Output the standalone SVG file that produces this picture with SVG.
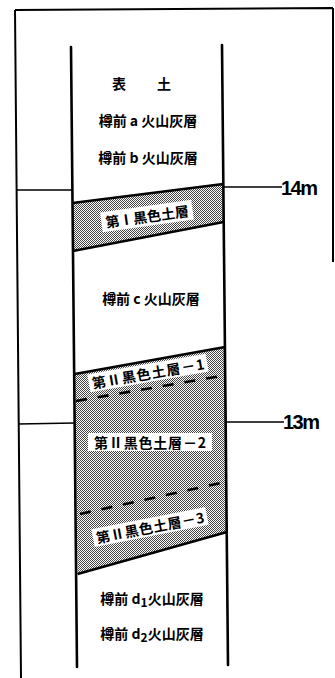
<svg xmlns="http://www.w3.org/2000/svg" width="335" height="678" viewBox="0 0 335 678">
<defs>
<pattern id="dots" width="2" height="2" patternUnits="userSpaceOnUse">
<rect width="2" height="2" fill="#ffffff"/>
<rect x="0" y="0" width="1" height="1" fill="#444"/>
<rect x="1" y="1" width="1" height="1" fill="#444"/>
</pattern>
</defs>
<style>
.frame{fill:none;stroke:#000;stroke-width:2}
.col{fill:none;stroke:#000;stroke-width:2.6;stroke-linecap:round}
.bd{fill:none;stroke:#000;stroke-width:2.6}
.dash{fill:none;stroke:#000;stroke-width:2.6;stroke-dasharray:11 11}
.tick{fill:none;stroke:#000;stroke-width:1.6}
.t{font-family:"Noto Sans CJK JP","Noto Sans CJK SC",sans-serif;font-weight:bold;font-size:14px;fill:#000;dominant-baseline:central;text-anchor:middle}
.m{font-family:"Liberation Sans",Arial,sans-serif;font-weight:bold;font-size:20px;fill:#000;letter-spacing:-1.5px;dominant-baseline:central}
.box{fill:#fff}
</style>
<g id="frame">
<path class="frame" d="M15,10 L333,8 M15,10 L21,678 M333,8 L333,262"/>
</g>
<g id="layer-I-black-soil">
<polygon points="72.5,203 223.3,184 223.6,222 72.9,251" fill="url(#dots)"/>
<path class="bd" d="M72.5,203 L223.3,184 M72.9,251 L223.6,222"/>
<g transform="translate(147,216) rotate(-8)">
<rect class="box" x="-46" y="-10" width="92" height="20"/>
<text class="t" x="0" y="0">第Ⅰ黒色土層</text>
</g>
</g>
<g id="layer-II-black-soil">
<polygon points="74.8,374 225.1,347 226.9,532 77.6,574" fill="url(#dots)"/>
<path class="bd" d="M74.8,374 L225.1,347 M77.6,574 L226.9,532"/>
</g>
<g id="label-II-1" transform="translate(148,373) rotate(-10)">
<rect class="box" x="-60" y="-9" width="120" height="18"/>
<text class="t" x="0" y="0" textLength="114">第Ⅱ黒色土層－1</text>
</g>
<g id="label-II-2" transform="translate(150,442)">
<rect class="box" x="-62" y="-9" width="124" height="18"/>
<text class="t" x="0" y="0" textLength="112">第Ⅱ黒色土層－2</text>
</g>
<g id="label-II-3" transform="translate(150,527) rotate(-11)">
<rect class="box" x="-58" y="-9" width="116" height="18"/>
<text class="t" x="0" y="0" textLength="110">第Ⅱ黒色土層－3</text>
</g>
<g id="column">
<path class="col" d="M71,47 L77,667 M222,45 L228,665"/>
</g>
<g id="connectors">
<path class="dash" d="M76,401 L221,376"/>
<path class="dash" d="M80,514 L225,482"/>
<path class="tick" d="M16,190 L72,190 M223,187 L282,187"/>
<path class="tick" d="M18,424 L75,423 M226,422 L284,422"/>
</g>
<g id="scale-14m"><text class="m" x="281" y="188">14m</text></g>
<g id="scale-13m"><text class="m" x="283" y="422">13m</text></g>
<g id="topsoil">
<text class="t" x="119" y="83">表</text>
<text class="t" x="164" y="83">土</text>
</g>
<g id="ta-a"><text class="t" x="148" y="120">樽前 a 火山灰層</text></g>
<g id="ta-b"><text class="t" x="148" y="157">樽前 b 火山灰層</text></g>
<g id="ta-c"><text class="t" x="151" y="298">樽前 c 火山灰層</text></g>
<g id="ta-d1"><text class="t" x="152" y="598">樽前 d<tspan dy="3" font-size="12">1</tspan><tspan dy="-3">火山灰層</tspan></text></g>
<g id="ta-d2"><text class="t" x="152" y="633">樽前 d<tspan dy="3" font-size="12">2</tspan><tspan dy="-3">火山灰層</tspan></text></g>
</svg>
